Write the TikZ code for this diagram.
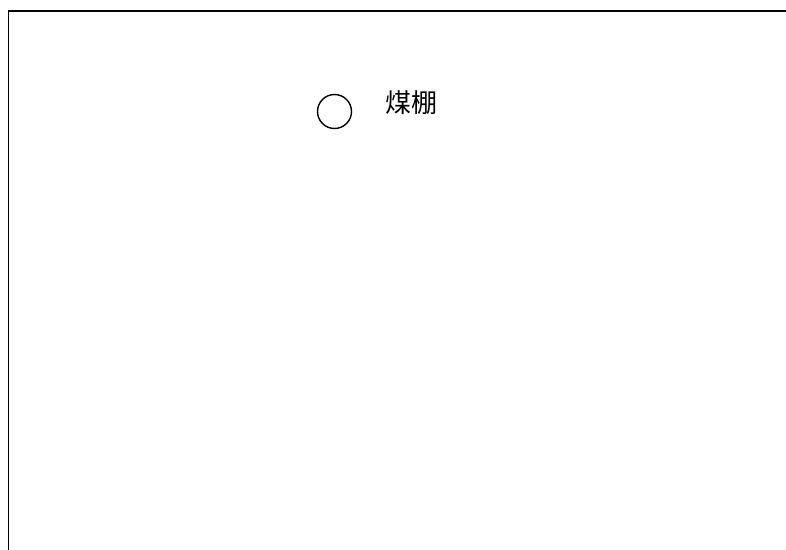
\documentclass[tikz,border=0pt]{standalone}
\usepackage{fontspec}
\newfontfamily\cjk{Noto Sans CJK SC}
\begin{document}
\begin{tikzpicture}[x=1pt,y=-1pt,
  frameline/.style={line width=1.7pt,draw=black},
  symb/.style={circle,draw=black,line width=1.4pt,minimum size=34pt,inner sep=0pt},
  lbl/.style={font=\cjk\fontsize{26}{30}\selectfont,inner sep=0pt,anchor=west}]
\useasboundingbox (0,0) rectangle (786,549);
\coordinate (tl) at (8.5,11);
\coordinate (tr) at (790,11);
\coordinate (bl) at (8.5,553);
\draw[frameline] (bl) -- (tl) -- (tr);
\node[symb] (c) at (334.5,111.5) {};
\node[lbl] (t) at (385,103) {煤棚};
\end{tikzpicture}
\end{document}
